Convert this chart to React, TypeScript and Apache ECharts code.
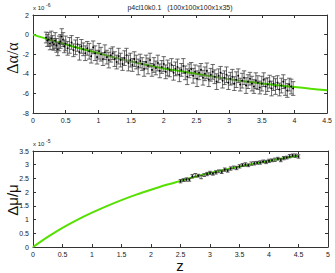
import React, { useEffect, useRef } from "react";
import * as echarts from "echarts";

const titleText = "p4cl10k0.1   (100x100x100x1x35)";

const alphaZ = [0.2,0.22,0.24,0.26,0.28,0.3,0.32,0.34,0.36,0.38,0.4,0.42,0.44,0.46,0.48,0.5,0.53,0.56,0.59,0.62,0.65,0.68,0.71,0.74,0.77,0.8,0.83,0.86,0.89,0.92,0.95,0.98,1.01,1.04,1.07,1.1,1.13,1.16,1.19,1.22,1.25,1.28,1.31,1.34,1.37,1.4,1.43,1.46,1.49,1.52,1.55,1.58,1.61,1.64,1.67,1.7,1.73,1.76,1.79,1.82,1.85,1.88,1.91,1.94,1.97,2.0,2.03,2.06,2.09,2.12,2.15,2.18,2.21,2.24,2.27,2.3,2.33,2.36,2.39,2.42,2.45,2.48,2.51,2.54,2.57,2.6,2.63,2.66,2.69,2.72,2.75,2.78,2.81,2.84,2.87,2.9,2.93,2.96,2.99,3.02,3.05,3.08,3.11,3.14,3.17,3.2,3.23,3.26,3.29,3.32,3.35,3.38,3.41,3.44,3.47,3.5,3.53,3.56,3.59,3.62,3.65,3.68,3.71,3.74,3.77,3.8,3.83,3.86,3.89,3.92,3.95,3.98];
const alphaVal = [-0.3,-0.6,-0.5,-0.9,-0.4,-0.8,-1.0,-0.6,-1.1,-1.5,-0.9,-0.7,-0.2,-0.5,-1.2,-0.9,-1.4,-1.1,-0.8,-1.6,-1.3,-1.0,-1.8,-1.2,-1.5,-1.9,-1.4,-1.7,-2.2,-1.3,-1.9,-2.3,-1.7,-2.0,-2.5,-1.8,-2.3,-2.6,-2.1,-1.9,-2.5,-2.8,-2.2,-2.6,-3.0,-2.4,-2.1,-2.9,-2.6,-3.1,-2.5,-2.8,-3.3,-2.7,-3.0,-3.5,-2.8,-3.2,-2.6,-3.6,-3.1,-3.4,-2.9,-3.7,-3.3,-3.0,-3.8,-3.4,-3.6,-3.1,-3.9,-3.5,-3.3,-4.1,-3.6,-3.2,-3.9,-4.3,-3.7,-3.5,-4.2,-3.8,-4.5,-3.9,-3.6,-4.4,-4.0,-3.7,-4.6,-4.1,-3.8,-4.3,-4.8,-4.2,-3.9,-4.7,-4.4,-4.1,-4.9,-4.5,-4.3,-5.0,-4.6,-4.2,-5.1,-4.7,-4.4,-5.2,-4.8,-4.5,-5.0,-5.3,-4.7,-4.9,-5.4,-5.0,-4.6,-5.3,-5.1,-4.8,-5.5,-5.0,-5.3,-4.9,-5.6,-5.2,-4.8,-5.4,-5.7,-5.1,-5.3,-5.5];
const alphaErr = [0.55,0.6,0.7,0.65,0.75,0.7,0.6,0.8,0.7,0.65,0.75,0.7,0.8,0.7,0.65,0.75,0.7,0.8,0.7,0.65,0.75,0.7,0.8,0.7,0.65,0.75,0.7,0.8,0.7,0.65,0.75,0.7,0.8,0.7,0.65,0.75,0.7,0.8,0.7,0.65,0.75,0.7,0.8,0.7,0.65,0.75,0.7,0.8,0.7,0.65,0.75,0.7,0.8,0.7,0.65,0.75,0.7,0.8,0.7,0.65,0.75,0.7,0.8,0.7,0.65,0.75,0.7,0.8,0.7,0.65,0.75,0.7,0.8,0.7,0.65,0.75,0.7,0.8,0.7,0.65,0.75,0.7,0.8,0.7,0.65,0.75,0.7,0.8,0.7,0.65,0.75,0.7,0.8,0.7,0.65,0.75,0.7,0.8,0.7,0.65,0.75,0.7,0.8,0.7,0.65,0.75,0.7,0.8,0.7,0.65,0.75,0.7,0.8,0.7,0.65,0.75,0.7,0.8,0.7,0.65,0.75,0.7,0.8,0.7,0.65,0.75,0.7,0.8,0.7,0.65,0.75,0.7];
const alphaFitZ = [0,0.25,0.5,0.75,1,1.25,1.5,1.75,2,2.25,2.5,2.75,3,3.25,3.5,3.75,4,4.25,4.5];
const alphaFitVal = [0,-0.52,-1.0,-1.47,-1.9,-2.34,-2.75,-3.11,-3.45,-3.72,-4.0,-4.28,-4.55,-4.78,-5.0,-5.18,-5.35,-5.52,-5.68];

const muZ = [2.5,2.55,2.6,2.65,2.7,2.75,2.8,2.85,2.9,2.95,3.0,3.05,3.1,3.15,3.2,3.25,3.3,3.35,3.4,3.45,3.5,3.55,3.6,3.65,3.7,3.75,3.8,3.85,3.9,3.95,4.0,4.05,4.1,4.15,4.2,4.25,4.3,4.35,4.4,4.45,4.5];
const muVal = [2.40,2.44,2.46,2.45,2.58,2.62,2.60,2.55,2.62,2.66,2.70,2.67,2.72,2.76,2.74,2.82,2.78,2.86,2.90,2.88,2.94,2.99,3.01,2.98,3.04,3.05,3.07,3.08,3.12,3.10,3.14,3.16,3.18,3.22,3.17,3.24,3.26,3.31,3.34,3.33,3.30];
const muErr = [0.06,0.05,0.06,0.05,0.06,0.06,0.05,0.06,0.05,0.06,0.06,0.05,0.06,0.05,0.06,0.06,0.05,0.06,0.05,0.06,0.06,0.05,0.06,0.05,0.06,0.06,0.05,0.06,0.05,0.06,0.06,0.05,0.06,0.05,0.06,0.06,0.05,0.06,0.05,0.06,0.06];
const muFitZ = [0,0.25,0.5,0.75,1,1.25,1.5,1.75,2,2.25,2.5,2.75,3,3.25,3.5,3.75,4,4.25,4.5];
const muFitVal = [0,0.37,0.7,0.99,1.25,1.49,1.71,1.91,2.09,2.26,2.41,2.56,2.70,2.82,2.93,3.04,3.14,3.24,3.33];

const topXTicks = { min: 0, max: 4.5, interval: 0.5 };
const topYTicks = { min: -8, max: 2, interval: 2 };
const botXTicks = { min: 0, max: 5, interval: 0.5 };
const botYTicks = { min: 0, max: 3.5, interval: 0.5 };

const FONT = "Liberation Sans";
const AXC = "#333";

function makeErr(cap: number, color: string) {
  return (params: any, api: any) => {
    const x = api.value(0);
    const y = api.value(1);
    const e = api.value(2);
    const t = api.coord([x, y + e]);
    const b = api.coord([x, y - e]);
    const m = api.coord([x, y]);
    const st = { stroke: color, lineWidth: 0.8, fill: null };
    return {
      type: "group",
      children: [
        { type: "line", shape: { x1: t[0], y1: t[1], x2: b[0], y2: b[1] }, style: st },
        { type: "line", shape: { x1: t[0] - cap, y1: t[1], x2: t[0] + cap, y2: t[1] }, style: st },
        { type: "line", shape: { x1: b[0] - cap, y1: b[1], x2: b[0] + cap, y2: b[1] }, style: st },
        { type: "circle", shape: { cx: m[0], cy: m[1], r: 0.9 }, style: { fill: "#000" } },
      ],
    };
  };
}

function axisX(gridIndex: number, ticks: any, top: boolean) {
  return {
    type: "value",
    gridIndex,
    position: top ? "top" : "bottom",
    ...ticks,
    axisLine: { show: true, onZero: false, lineStyle: { color: AXC, width: 1 } },
    axisTick: { show: true, inside: true, length: 3, lineStyle: { color: AXC } },
    axisLabel: { show: !top, fontSize: 7, color: "#222", fontFamily: FONT, margin: 4 },
    splitLine: { show: false },
  };
}
function axisY(gridIndex: number, ticks: any, right: boolean) {
  return {
    type: "value",
    gridIndex,
    position: right ? "right" : "left",
    ...ticks,
    axisLine: { show: true, onZero: false, lineStyle: { color: AXC, width: 1 } },
    axisTick: { show: true, inside: true, length: 3, lineStyle: { color: AXC } },
    axisLabel: { show: !right, fontSize: 7, color: "#222", fontFamily: FONT, margin: 4 },
    splitLine: { show: false },
  };
}

export default function App() {
  const ref = useRef<HTMLDivElement>(null);
  useEffect(() => {
    document.body.style.margin = "0";
    const chart = echarts.init(ref.current!, null, { renderer: "svg" });
    const alphaData = alphaZ.map((z, i) => [z, alphaVal[i], alphaErr[i]]);
    const muData = muZ.map((z, i) => [z, muVal[i], muErr[i]]);
    chart.setOption({
      animation: false,
      backgroundColor: "#fff",
      grid: [
        { left: 33, right: 7, top: 15, height: 98 },
        { left: 33, right: 7, top: 151, height: 96 },
      ],
      xAxis: [
        axisX(0, topXTicks, false),
        axisX(0, topXTicks, true),
        axisX(1, botXTicks, false),
        axisX(1, botXTicks, true),
      ],
      yAxis: [
        axisY(0, topYTicks, false),
        axisY(0, topYTicks, true),
        axisY(1, botYTicks, false),
        axisY(1, botYTicks, true),
      ],
      graphic: [
        { type: "text", x: 180, y: 7, style: { text: titleText, fontSize: 7, fill: "#222", fontFamily: FONT, align: "center", verticalAlign: "middle" } },
        { type: "text", x: 33, y: 5, style: { text: "x 10", fontSize: 6, fill: "#222", fontFamily: FONT } },
        { type: "text", x: 46, y: 2, style: { text: "-6", fontSize: 5, fill: "#222", fontFamily: FONT } },
        { type: "text", x: 33, y: 141, style: { text: "x 10", fontSize: 6, fill: "#222", fontFamily: FONT } },
        { type: "text", x: 46, y: 138, style: { text: "-5", fontSize: 5, fill: "#222", fontFamily: FONT } },
        { type: "text", x: 12, y: 58, rotation: Math.PI / 2, style: { text: "Δα/α", fontSize: 16, fill: "#111", fontFamily: "Liberation Serif", align: "center", verticalAlign: "middle" } },
        { type: "text", x: 12, y: 200, rotation: Math.PI / 2, style: { text: "Δμ/μ", fontSize: 15, fill: "#111", fontFamily: FONT, align: "center", verticalAlign: "middle" } },
        { type: "text", x: 180, y: 265, style: { text: "z", fontSize: 15, fill: "#111", fontFamily: FONT, align: "center", verticalAlign: "middle" } },
      ],
      series: [
        {
          type: "line",
          xAxisIndex: 0,
          yAxisIndex: 0,
          data: alphaFitZ.map((z, i) => [z, alphaFitVal[i]]),
          smooth: 0.3,
          showSymbol: false,
          lineStyle: { color: "#55e000", width: 2 },
          z: 2,
        },
        {
          type: "custom",
          xAxisIndex: 0,
          yAxisIndex: 0,
          data: alphaData,
          encode: { x: 0, y: 1 },
          renderItem: makeErr(2.2, "#444"),
          z: 3,
        },
        {
          type: "line",
          xAxisIndex: 2,
          yAxisIndex: 2,
          data: muFitZ.map((z, i) => [z, muFitVal[i]]),
          smooth: 0.3,
          showSymbol: false,
          lineStyle: { color: "#55e000", width: 2 },
          z: 2,
        },
        {
          type: "custom",
          xAxisIndex: 2,
          yAxisIndex: 2,
          data: muData,
          encode: { x: 0, y: 1 },
          renderItem: makeErr(1.8, "#333"),
          z: 3,
        },
      ],
    });
    return () => chart.dispose();
  }, []);
  return <div ref={ref} style={{ width: 335, height: 273 }} />;
}
